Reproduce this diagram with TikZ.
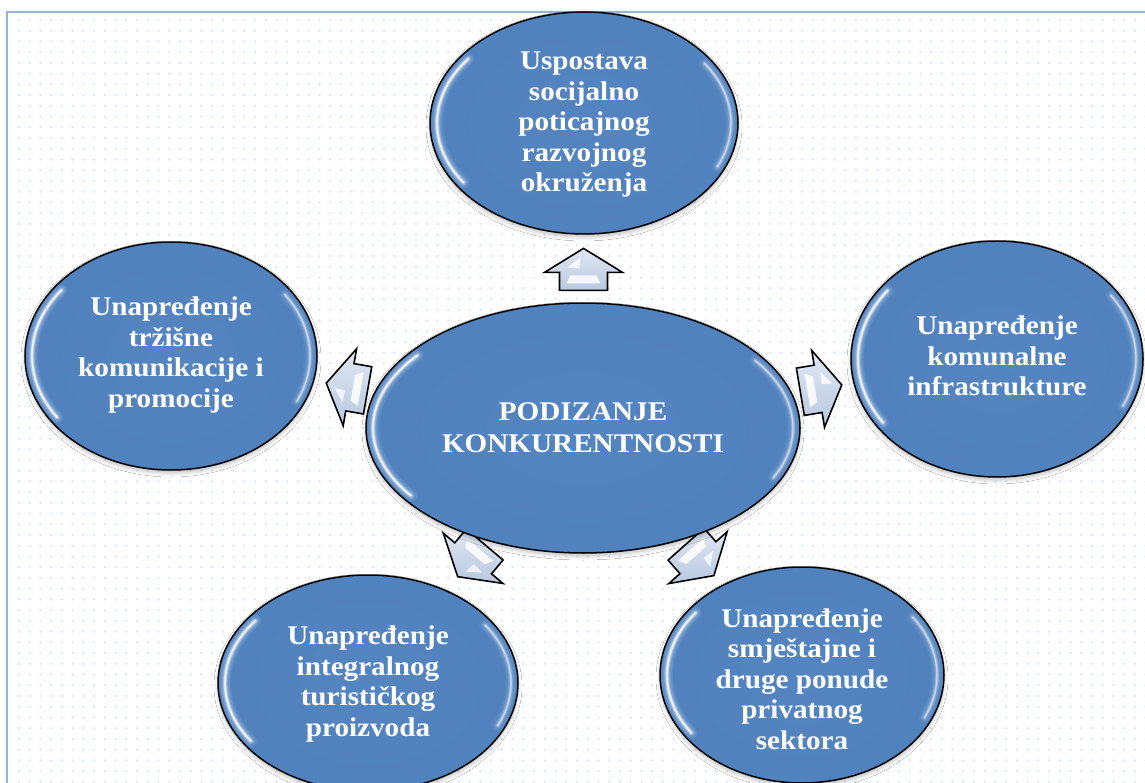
\documentclass[tikz,border=0pt]{standalone}
\usepackage{fontspec}
\setmainfont{Liberation Serif}[FakeStretch=1.08]
\usetikzlibrary{shapes.geometric,calc,shadows.blur}
\definecolor{ellmid}{HTML}{4F81BD}
\definecolor{ellin}{HTML}{5585C0}
\definecolor{ellout}{HTML}{3E6CA6}
\definecolor{dotc}{HTML}{D9E4F2}
\definecolor{framec}{HTML}{95B3D7}
\definecolor{arrtop}{HTML}{E0E8F3}
\definecolor{arrbot}{HTML}{B8C8E0}
\pgfdeclareradialshading{ellshade}{\pgfpoint{0bp}{0bp}}{color(0bp)=(ellin); color(30bp)=(ellmid); color(45bp)=(ellmid); color(50bp)=(ellout)}
\newcommand\ellgloss[3]{%
  \foreach \w/\o in {12/0.07, 9/0.1, 6/0.16, 4/0.28, 2.4/0.45, 1.2/0.75}{%
    \draw[white, line width=\w pt, opacity=\o, line cap=round]
      ([shift={({(#2-7)*cos(145)},{(#3-7)*sin(145)})}]#1.center)
      arc[start angle=145, end angle=218, x radius=#2-7, y radius=#3-7];
    \draw[white, line width=\w pt, opacity=0.55*\o, line cap=round]
      ([shift={({(#2-7)*cos(-35)},{(#3-7)*sin(-35)})}]#1.center)
      arc[start angle=-35, end angle=25, x radius=#2-7, y radius=#3-7];
  }%
}
\tikzset{
  ell/.style={ellipse, draw=black, line width=1.5pt, shading=ellshade, inner sep=0pt,
    blur shadow={shadow xshift=0pt, shadow yshift=-3pt, shadow blur radius=4pt, shadow opacity=25}},
  txt/.style={text=white, font=\fontsize{27}{30.5}\selectfont\bfseries, align=center, inner sep=0pt},
  dotline/.style={dotc, line width=2.4pt, line cap=round, dash pattern=on 0pt off 10.73pt},
  blockarrow/.pic={
    \filldraw[draw=black, line width=1.6pt, line join=miter, top color=arrtop, bottom color=arrbot]
      (-21,-24) -- (-3,-24) -- (-3,-39) -- (21,0) -- (-3,39) -- (-3,24) -- (-21,24) -- cycle;
    \fill[white, opacity=.85] (-14,-17) -- (-6,-13) -- (-6,13) -- (-14,17) -- cycle;
    \fill[white, opacity=.75] (12,-3) -- (2,-16) -- (1,-4) -- cycle;
  }
}
\begin{document}
\begin{tikzpicture}[x=1pt, y=-1pt]
\useasboundingbox (0,0) rectangle (1145,783);
\fill[white] (0,0) rectangle (1145,783);
% dotted background
\foreach \i in {0,...,72}{\draw[dotline] (19,{20+10.73*\i}) -- (1150,{20+10.73*\i});}
% frame
\draw[framec, line width=2.2pt] (7,790) -- (7,12) -- (1150,12);
% positions
\coordinate (pcen) at (583,428);
\coordinate (ptop) at (584,123);
\coordinate (pleft) at (171,356);
\coordinate (pright) at (997,359);
\coordinate (pbl) at (368,683);
\coordinate (pbr) at (802,675);
% arrows
\coordinate (aT) at ($(pcen)!0.52!(ptop)$);
\coordinate (aL) at ($(pcen)!0.573!(pleft)$);
\coordinate (aR) at ($(pcen)!0.575!(pright)$);
\coordinate (aBL) at ($(pcen)!0.52!(pbl)$);
\coordinate (aBR) at ($(pcen)!0.534!(pbr)$);
\pic[rotate=90] at (aT) {blockarrow};
\pic[rotate=170.1] at (aL) {blockarrow};
\pic[rotate=9.5] at (aR) {blockarrow};
\pic[rotate=229.9] at (aBL) {blockarrow};
\pic[rotate=-48.4] at (aBR) {blockarrow};
% ellipses
\node[ell, minimum width=308pt, minimum height=222pt] (top) at (ptop) {};
\node[ell, minimum width=292pt, minimum height=228pt] (left) at (pleft) {};
\node[ell, minimum width=292pt, minimum height=236pt] (right) at (pright) {};
\node[ell, minimum width=300pt, minimum height=216pt] (bl) at (pbl) {};
\node[ell, minimum width=284pt, minimum height=216pt] (br) at (pbr) {};
\node[ell, minimum width=434pt, minimum height=250pt] (cen) at (pcen) {};
\ellgloss{top}{154}{111}
\ellgloss{left}{146}{114}
\ellgloss{right}{146}{118}
\ellgloss{bl}{150}{108}
\ellgloss{br}{142}{108}
\ellgloss{cen}{217}{125}
% texts
\node[txt] (ttop) at (584,125) {Uspostava\\socijalno\\poticajnog\\razvojnog\\okruženja};
\node[txt] (tleft) at (171,355) {Unapređenje\\tržišne\\komunikacije i\\promocije};
\node[txt] (tright) at (997,356) {Unapređenje\\komunalne\\infrastrukture};
\node[txt] (tbl) at (368,684) {Unapređenje\\integralnog\\turističkog\\proizvoda};
\node[txt] (tbr) at (802,679) {Unapređenje\\smještajne i\\druge ponude\\privatnog\\sektora};
\node[txt, font=\fontsize{27}{32}\selectfont\bfseries] (tcen) at (583,428) {PODIZANJE\\KONKURENTNOSTI};
\end{tikzpicture}
\end{document}
